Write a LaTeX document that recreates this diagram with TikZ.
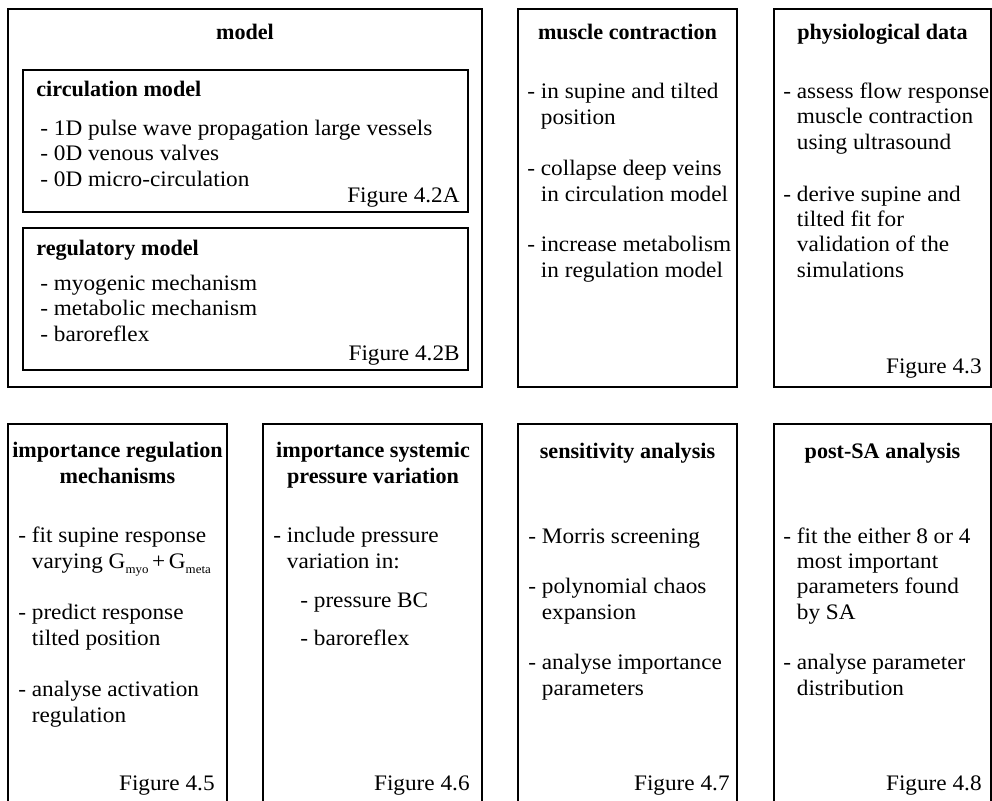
\documentclass[tikz,border=0pt]{standalone}
\usepackage{fontspec}
\setmainfont{Liberation Serif}
\newfontfamily\itemfont{Liberation Serif}[FakeStretch=1.05]
\usetikzlibrary{fit}

\newcommand{\bodyfont}{\fontsize{12.6}{14.35}\selectfont}
\newcommand{\cont}{\phantom{- }}
\newcommand{\lowsub}[1]{\raisebox{-0.55ex}{\fontsize{7}{8}\selectfont #1}}

\tikzset{
  panel/.style={draw, line width=1.3pt, inner sep=0pt},
  head/.style={font=\bodyfont\bfseries, anchor=base, align=center, inner sep=0pt},
  itm/.style={font=\itemfont\bodyfont, anchor=base west, align=left, inner sep=0pt},
  figref/.style={font=\itemfont\bodyfont, anchor=base east, inner sep=0pt}
}

\begin{document}
\begin{tikzpicture}[x=0.02cm, y=-0.02cm]
  \useasboundingbox (0,0) rectangle (992,801);
  \clip (0,0) rectangle (992,801);

  % top row
  \node[panel, fit={(8,9) (482,387)}] (model) {};
  \node[panel, fit={(23,70) (468,212)}] (circ) {};
  \node[panel, fit={(23,228) (468,370)}] (reg) {};
  \node[panel, fit={(518,9) (737,387)}] (muscle) {};
  \node[panel, fit={(774,9) (991,387)}] (physio) {};

  % base of a multi-line node = its last line
  \node[head] (modelhead) at (245,39) {model};
  \node[head, anchor=base west] (circhead) at (36,96) {circulation model};
  \node[itm] (circitems) at (40,186) {- 1D pulse wave propagation large vessels\\- 0D venous valves\\- 0D micro-circulation};
  \node[figref] (circfig) at (460,202) {Figure 4.2A};
  \node[head, anchor=base west] (reghead) at (36,255) {regulatory model};
  \node[itm] (regitems) at (40,341) {- myogenic mechanism\\- metabolic mechanism\\- baroreflex};
  \node[figref] (regfig) at (460,360) {Figure 4.2B};

  \node[head] (musclehead) at (627.5,39) {muscle contraction};
  \node[itm] (muscleA) at (527,124) {- in supine and tilted\\\cont position};
  \node[itm] (muscleB) at (527,201) {- collapse deep veins\\\cont in circulation model};
  \node[itm] (muscleC) at (527,277) {- increase metabolism\\\cont in regulation model};

  \node[head] (physiohead) at (882.5,39) {physiological data};
  \node[itm] (physioA) at (783,149) {- assess flow response\\\cont muscle contraction\\\cont using ultrasound};
  \node[itm] (physioB) at (783,277) {- derive supine and\\\cont tilted fit for\\\cont validation of the\\\cont simulations};
  \node[figref] (physiofig) at (982,373) {Figure 4.3};

  % bottom row
  \node[panel, fit={(8,424) (227,815)}] (regimp) {};
  \node[panel, fit={(263,424) (482,815)}] (pressimp) {};
  \node[panel, fit={(518,424) (737,815)}] (sens) {};
  \node[panel, fit={(774,424) (991,815)}] (postsa) {};

  \node[head] (regimphead) at (117.5,483) {importance regulation\\mechanisms};
  \node[itm] (regimpA) at (18,568) {- fit supine response\\\cont varying G\lowsub{myo}\,+\,G\lowsub{meta}};
  \node[itm] (regimpB) at (18,645) {- predict response\\\cont tilted position};
  \node[itm] (regimpC) at (18,722) {- analyse activation\\\cont regulation};
  \node[figref] (regimpfig) at (215,790) {Figure 4.5};

  \node[head] (pressimphead) at (373,483) {importance systemic\\pressure variation};
  \node[itm] (pressimpA) at (273,568) {- include pressure\\\cont variation in:};
  \node[itm] (pressimpB) at (300,607) {- pressure BC};
  \node[itm] (pressimpC) at (300,645) {- baroreflex};
  \node[figref] (pressimpfig) at (470,790) {Figure 4.6};

  \node[head] (senshead) at (627.5,458) {sensitivity analysis};
  \node[itm] (sensA) at (528,543) {- Morris screening};
  \node[itm] (sensB) at (528,619) {- polynomial chaos\\\cont expansion};
  \node[itm] (sensC) at (528,695) {- analyse importance\\\cont parameters};
  \node[figref] (sensfig) at (730,790) {Figure 4.7};

  \node[head] (postsahead) at (882.5,458) {post-SA analysis};
  \node[itm] (postsaA) at (783,619) {- fit the either 8 or 4\\\cont most important\\\cont parameters found\\\cont by SA};
  \node[itm] (postsaB) at (783,695) {- analyse parameter\\\cont distribution};
  \node[figref] (postsafig) at (982,790) {Figure 4.8};
\end{tikzpicture}
\end{document}
